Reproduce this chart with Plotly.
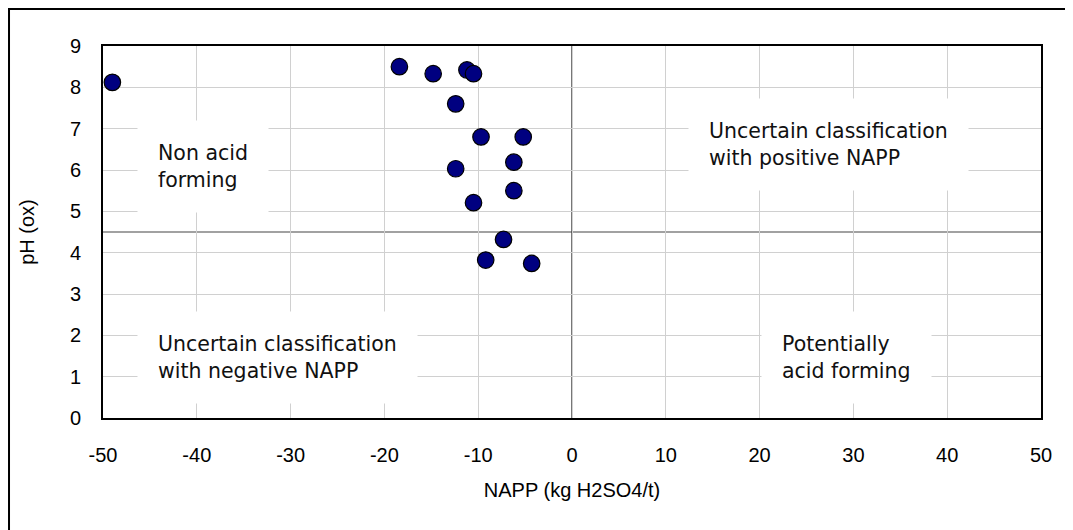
import plotly.graph_objects as go

napp = [-49.0, -18.4, -14.8, -11.2, -10.5, -12.4, -9.7, -5.2, -6.2, -12.4, -6.2, -10.5, -7.3, -9.2, -4.3]
ph_ox = [8.12, 8.5, 8.33, 8.42, 8.33, 7.6, 6.8, 6.8, 6.19, 6.03, 5.5, 5.21, 4.32, 3.82, 3.74]

x_ticks = [-50, -40, -30, -20, -10, 0, 10, 20, 30, 40, 50]
y_ticks = [0, 1, 2, 3, 4, 5, 6, 7, 8, 9]

ph_threshold = 4.5
napp_threshold = 0

region_labels = ["Non acid<br>forming",
                 "Uncertain classification<br>with positive NAPP",
                 "Uncertain classification<br>with negative NAPP",
                 "Potentially<br>acid forming"]
region_x = [-46.4, 12.4, -46.4, 20.1]
region_y = [6.09, 6.62, 1.46, 1.46]

fig = go.Figure()

fig.add_trace(go.Scatter(
    x=napp, y=ph_ox, mode="markers",
    marker=dict(size=16.5, color="#000080", line=dict(color="black", width=1.2)),
    showlegend=False, cliponaxis=False,
))

# Threshold lines
fig.add_shape(type="line", xref="x", yref="y", x0=napp_threshold, x1=napp_threshold, y0=0, y1=9,
              line=dict(color="#555555", width=1.6), layer="below")
fig.add_shape(type="line", xref="x", yref="y", x0=-50, x1=50, y0=ph_threshold, y1=ph_threshold,
              line=dict(color="#444444", width=1.2), layer="below")

# Outer chart border
fig.add_shape(type="rect", xref="paper", yref="paper",
              x0=-0.1002, x1=1.06, y0=-0.36, y1=1.0995,
              line=dict(color="black", width=2), layer="below")

for txt, xx, yy in zip(region_labels, region_x, region_y):
    fig.add_annotation(x=xx, y=yy, xref="x", yref="y", text=txt, showarrow=False,
                       xanchor="left", yanchor="middle", align="left",
                       bgcolor="white", borderpad=20,
                       font=dict(family="DejaVu Sans, Verdana", size=20.5, color="#111111"))

axis_font = dict(family="Liberation Sans, Arial", size=20, color="black")

fig.update_xaxes(range=[-50, 50], tickvals=x_ticks, ticktext=[str(v) for v in x_ticks],
                 showgrid=True, gridcolor="#d0d0d0", gridwidth=1, zeroline=False,
                 showline=True, linecolor="black", linewidth=1.8, mirror=True,
                 ticks="", ticklabelstandoff=18, tickfont=axis_font,
                 title=dict(text="NAPP (kg H2SO4/t)", font=axis_font, standoff=18))
fig.update_yaxes(range=[0, 9], tickvals=y_ticks, ticktext=[str(v) for v in y_ticks],
                 showgrid=True, gridcolor="#d0d0d0", gridwidth=1, zeroline=False,
                 showline=True, linecolor="black", linewidth=1.8, mirror=True,
                 ticks="", ticklabelstandoff=16, tickfont=axis_font,
                 title=dict(text="pH (ox)", font=axis_font, standoff=30))

fig.update_layout(width=1073, height=530,
                  margin=dict(l=95, r=40, t=38, b=120, autoexpand=False),
                  paper_bgcolor="white", plot_bgcolor="white",
                  font=axis_font)

fig.write_html("out.html")
